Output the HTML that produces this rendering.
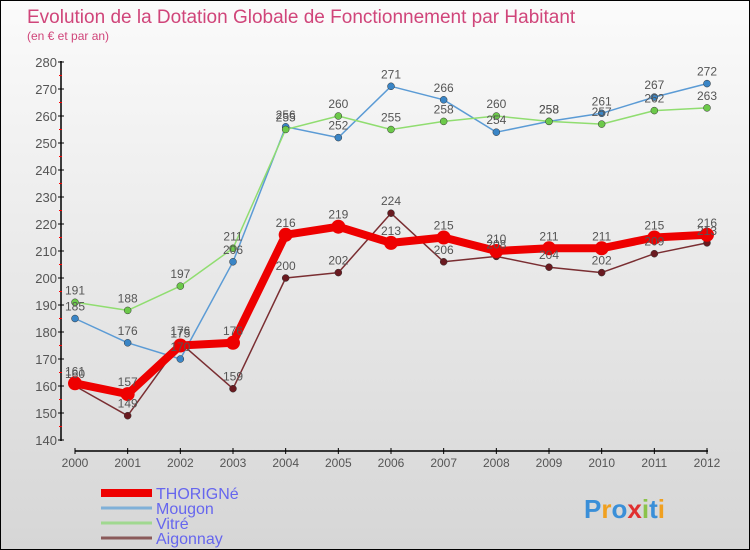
<!DOCTYPE html>
<html><head><meta charset="utf-8"><style>
body{margin:0}
#c{width:748px;height:548px;border:1px solid #000;background:linear-gradient(#fbfbfb,#d6d6d6);position:relative;font-family:"Liberation Sans",sans-serif}
</style></head><body>
<div id="c">
<svg id="s" width="748" height="548" style="position:absolute;left:0;top:0"></svg>
</div>
<script>
const years=["2000","2001","2002","2003","2004","2005","2006","2007","2008","2009","2010","2011","2012"];
const thorigne=[161,157,175,176,216,219,213,215,210,211,211,215,216];
const mougon=[185,176,170,206,256,252,271,266,254,258,261,267,272];
const vitre=[191,188,197,211,255,260,255,258,260,258,257,262,263];
const aigonnay=[160,149,176,159,200,202,224,206,208,204,202,209,213];
const yTicks=[140,150,160,170,180,190,200,210,220,230,240,250,260,270,280];
const s=document.getElementById('s');const NS='http://www.w3.org/2000/svg';
function el(t,a,txt){const e=document.createElementNS(NS,t);for(const k in a)e.setAttribute(k,a[k]);if(txt!=null)e.textContent=txt;s.appendChild(e);return e;}
const X=i=>74+i*(632/12);
const Y=v=>439-(v-140)*(378/140);
let e;
e=el('text',{x:26,y:22,'font-size':19,fill:'#d0457a'},'Evolution de la Dotation Globale de Fonctionnement par Habitant');

e=el('text',{x:26,y:39,'font-size':12,fill:'#d0457a'},'(en € et par an)');

e=el('line',{x1:60,y1:60,x2:60,y2:440,stroke:'#000','stroke-width':1.5});

yTicks.forEach((v,i)=>{
 e=el('line',{x1:57,x2:63,y1:Y(v),y2:Y(v),stroke:'#000'});
 
 if(i<yTicks.length-1){e=el('line',{x1:58,x2:61,y1:Y(v+5),y2:Y(v+5),stroke:'#f00'});
 }
 e=el('text',{x:56,y:Y(v)+5,'font-size':13,fill:'#555','text-anchor':'end'},v);
 
});
e=el('line',{x1:74,y1:450,x2:707,y2:450,stroke:'#000','stroke-width':1.5});

years.forEach((y,i)=>{
 e=el('line',{x1:X(i),x2:X(i),y1:447,y2:453,stroke:'#000'});
 
 e=el('text',{x:X(i),y:466,'font-size':12,fill:'#555','text-anchor':'middle'},y);
 
});
const series=[
 {n:'mougon',d:mougon,c:'#5b9bd5',dot:'#3a85c6',w:1.5,r:3.5},
 {n:'vitre',d:vitre,c:'#90dd70',dot:'#6cc94a',w:1.5,r:3.5},
 {n:'aigonnay',d:aigonnay,c:'#7a2e32',dot:'#6a1a20',w:1.5,r:3.5},
 {n:'thorigne',d:thorigne,c:'#ee0000',dot:'#ee0000',w:8,r:7}];
series.forEach(sr=>{
 e=el('polyline',{points:sr.d.map((v,i)=>X(i)+','+Y(v)).join(' '),fill:'none',stroke:sr.c,'stroke-width':sr.w,'stroke-linejoin':'round'});
 
 sr.d.forEach((v,i)=>{
  e=el('circle',{cx:X(i),cy:Y(v),r:sr.r,fill:sr.dot,stroke:sr.w>2?'none':'#333','stroke-width':0.5});
  
 });
});
series.forEach(sr=>{sr.d.forEach((v,i)=>{
 e=el('text',{x:X(i),y:Y(v)-8,'font-size':12,fill:'#555','text-anchor':'middle'},v);
 
});});
const leg=[['THORIGNé','#ee0000',8],['Mougon','#7fb0d8',3],['Vitré','#a0d890',3],['Aigonnay','#8a5a5a',3]];
leg.forEach((l,i)=>{
 const y=492+i*15;
 e=el('line',{x1:100,x2:151,y1:y,y2:y,stroke:l[1],'stroke-width':l[2]});
 
 e=el('text',{x:155,y:y+6,'font-size':16,fill:'#6666ee'},l[0]);
 
});
e=el('text',{x:583,y:517,'font-size':26,'font-weight':'bold'});

[['P','#3a8fd8'],['r','#f0a020'],['o','#3a8fd8'],['x','#e03030'],['i','#8bc34a'],['t','#3a8fd8'],['i','#f0a020']].forEach(p=>{
 const t=document.createElementNS(NS,'tspan');t.setAttribute('fill',p[1]);t.textContent=p[0];e.appendChild(t);
});
</script>
</body></html>
